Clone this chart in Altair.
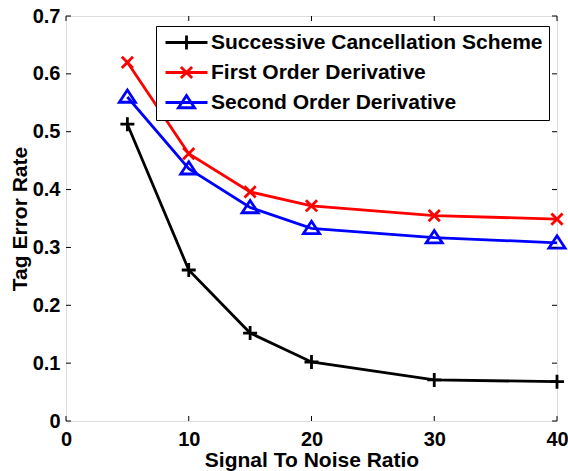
import altair as alt
import pandas as pd

snr = [5, 10, 15, 20, 30, 40]
series_names = ["Successive Cancellation Scheme", "First Order Derivative", "Second Order Derivative"]
successive = [0.513, 0.261, 0.152, 0.102, 0.071, 0.068]
first_order = [0.620, 0.462, 0.396, 0.372, 0.355, 0.349]
second_order = [0.560, 0.436, 0.369, 0.333, 0.317, 0.308]
colors = ["#000000", "#ff0000", "#0000ff"]
x_ticks = [0, 10, 20, 30, 40]
y_ticks = [0, 0.1, 0.2, 0.3, 0.4, 0.5, 0.6, 0.7]

marker_paths = [
    "M-1,0L1,0M0,-1L0,1",
    "M-0.8,-0.8L0.8,0.8M-0.8,0.8L0.8,-0.8",
    "M0,-1L1.15,0.75L-1.15,0.75Z",
]
legend_paths = [
    "M-1,0L5,0M2,-1L2,1",
    "M-1,0L5,0M1.2,-0.8L2.8,0.8M1.2,0.8L2.8,-0.8",
    "M-1,0L5,0M2,-1L3.15,0.75L0.85,0.75Z",
]

rows = []
for name, vals in zip(series_names, [successive, first_order, second_order]):
    for s, v in zip(snr, vals):
        rows.append({"snr": s, "ter": v, "series": name})
df = pd.DataFrame(rows)
xt = pd.DataFrame({"snr": x_ticks})
yt = pd.DataFrame({"ter": y_ticks})

W, H = 491, 405
FONT = "Liberation Sans"
LW = 2.8
xscale = alt.Scale(domain=[0, 40], nice=False)
yscale = alt.Scale(domain=[0, 0.7], nice=False)

xaxis = alt.Axis(values=x_ticks, title="Signal To Noise Ratio", grid=False, ticks=False, tickSize=0,
                 domain=False, labelFont=FONT, labelFontSize=20, labelFontWeight="bold",
                 labelColor="black", labelPadding=8, titleFont=FONT, titleFontSize=21,
                 titleFontWeight="bold", titleColor="black", titlePadding=0, labelFlush=False)
yaxis = alt.Axis(values=y_ticks, title="Tag Error Rate", grid=False, ticks=False, tickSize=0,
                 domain=False, labelFont=FONT, labelFontSize=20, labelFontWeight="bold",
                 labelColor="black", labelPadding=6, titleFont=FONT, titleFontSize=21,
                 titleFontWeight="bold", titleColor="black", titlePadding=2, labelFlush=False,
                 labelExpr="datum.value == 0 ? '0' : format(datum.value, '.1f')")

X = alt.X("snr:Q", scale=xscale, axis=xaxis)
Y = alt.Y("ter:Q", scale=yscale, axis=yaxis)

series_layers = []
for name, col, path in zip(series_names, colors, marker_paths):
    sub = df[df["series"] == name]
    series_layers.append(alt.Chart(sub).mark_line(strokeWidth=LW, color=col).encode(x=X, y=Y))
for name, col, path in zip(series_names, colors, marker_paths):
    sub = df[df["series"] == name]
    series_layers.append(
        alt.Chart(sub).mark_point(shape=path, filled=False, size=196, strokeWidth=LW,
                                  color=col, opacity=1).encode(x=X, y=Y)
    )

leg = alt.Legend(title=None, orient="none", legendX=90, legendY=10, padding=6,
                 strokeColor="black", fillColor="white", labelFont=FONT, labelFontSize=21,
                 labelFontWeight="bold", labelColor="black", symbolSize=196,
                 symbolStrokeWidth=LW, symbolOpacity=1, labelOffset=28, rowPadding=5,
                 labelLimit=1000)

legend_layer = alt.Chart(df).transform_filter("datum.snr < 0").mark_point(
    filled=False, size=196, strokeWidth=LW
).encode(
    x=X, y=Y,
    color=alt.Color("series:N", scale=alt.Scale(domain=series_names, range=colors), legend=leg),
    shape=alt.Shape("series:N", scale=alt.Scale(domain=series_names, range=legend_paths), legend=leg),
)

TL = 5
bottom_ticks = alt.Chart(xt).mark_rule(color="black", strokeWidth=1).encode(
    x=X, y=alt.value(H), y2=alt.value(H - TL))
top_ticks = alt.Chart(xt).mark_rule(color="black", strokeWidth=1).encode(
    x=X, y=alt.value(0), y2=alt.value(TL))
left_ticks = alt.Chart(yt).mark_rule(color="black", strokeWidth=1).encode(
    y=Y, x=alt.value(0), x2=alt.value(TL))
right_ticks = alt.Chart(yt).mark_rule(color="black", strokeWidth=1).encode(
    y=Y, x=alt.value(W), x2=alt.value(W - TL))

chart = alt.layer(
    *series_layers, bottom_ticks, top_ticks, left_ticks, right_ticks, legend_layer
).properties(
    width=W, height=H,
    autosize=alt.AutoSizeParams(type="none"),
    padding={"left": 66, "top": 16, "right": 11, "bottom": 50},
).configure_view(
    stroke="black", strokeWidth=1
).configure(background="white")

chart.save("out.html", embed_options={"renderer": "svg", "actions": False})
